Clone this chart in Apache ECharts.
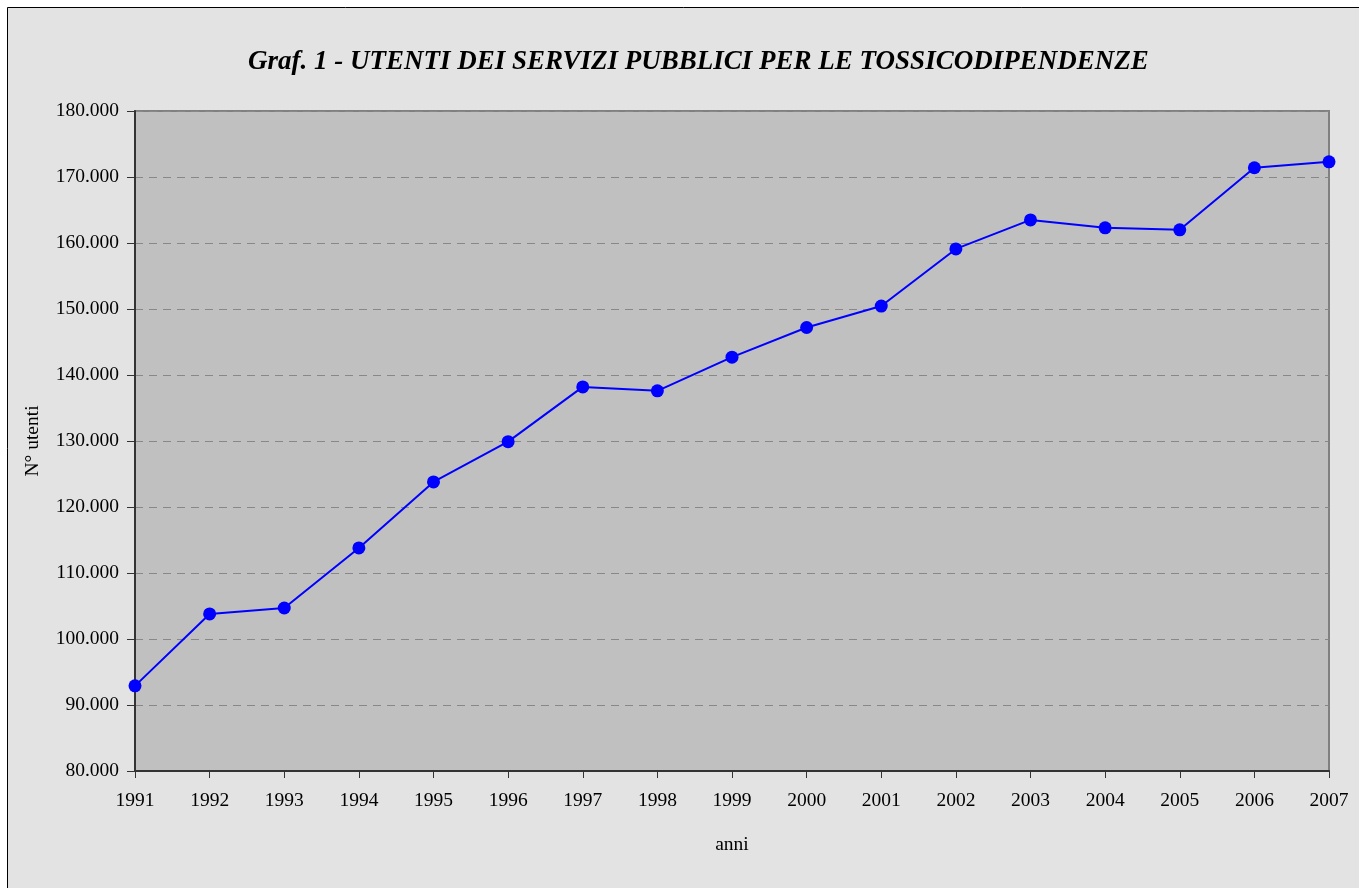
<!DOCTYPE html>
<html><head><meta charset="utf-8">
<script src="https://cdn.jsdelivr.net/npm/echarts@6/dist/echarts.min.js"></script>
<style>html,body{margin:0;padding:0;background:#fff;}#c{width:1359px;height:888px;}</style>
</head><body><div id="c"></div>
<script>
const years = ['1991','1992','1993','1994','1995','1996','1997','1998','1999','2000','2001','2002','2003','2004','2005','2006','2007'];
const utenti = [92900,103800,104700,113800,123800,129900,138200,137600,142700,147200,150450,159100,163500,162300,162000,171400,172300];
const titleText = 'Graf. 1 - UTENTI DEI SERVIZI PUBBLICI PER LE TOSSICODIPENDENZE';
const xName = 'anni';
const yName = 'N° utenti';
const font = 'Liberation Serif, Times New Roman, serif';
const chart = echarts.init(document.getElementById('c'));
chart.setOption({
  backgroundColor: '#ffffff',
  animation: false,
  graphic: [{
    type: 'rect', z: -10, silent: true,
    shape: {x: 7.5, y: 7.5, width: 1360, height: 890},
    style: {fill: '#e3e3e3', stroke: '#000', lineWidth: 1}
  }],
  title: {
    text: titleText, left: 243, top: 44,
    textStyle: {fontFamily: font, fontStyle: 'italic', fontWeight: 'bold', fontSize: 27, color: '#000'}
  },
  grid: {left: 135, top: 111, width: 1194, height: 660, show: true, backgroundColor: '#c0c0c0', borderColor: '#808080', borderWidth: 2},
  xAxis: {
    type: 'category', data: years, boundaryGap: false,
    name: xName, nameLocation: 'middle', nameGap: 64,
    nameTextStyle: {fontFamily: font, fontSize: 19.5, color: '#000'},
    axisLine: {lineStyle: {color: '#333', width: 2}},
    axisTick: {show: true, length: 7, lineStyle: {color: '#333'}},
    axisLabel: {fontFamily: font, fontSize: 19.5, color: '#000', margin: 20},
    splitLine: {show: false}
  },
  yAxis: {
    type: 'value', min: 80000, max: 180000, interval: 10000,
    name: yName, nameLocation: 'middle', nameGap: 92, nameRotate: 90,
    nameTextStyle: {fontFamily: font, fontSize: 19.5, color: '#000'},
    axisLine: {show: true, lineStyle: {color: '#333', width: 2}},
    axisTick: {show: true, length: 8, lineStyle: {color: '#333'}},
    axisLabel: {fontFamily: font, fontSize: 19.5, color: '#000', margin: 16,
      formatter: v => String(v).replace(/\B(?=(\d{3})+(?!\d))/g, '.')},
    splitLine: {show: true, lineStyle: {color: '#888', type: [8, 6], width: 1}}
  },
  series: [{
    type: 'line', data: utenti,
    symbol: 'circle', symbolSize: 13,
    lineStyle: {color: '#0000ff', width: 2},
    itemStyle: {color: '#0000ff'}
  }]
});
</script></body></html>
